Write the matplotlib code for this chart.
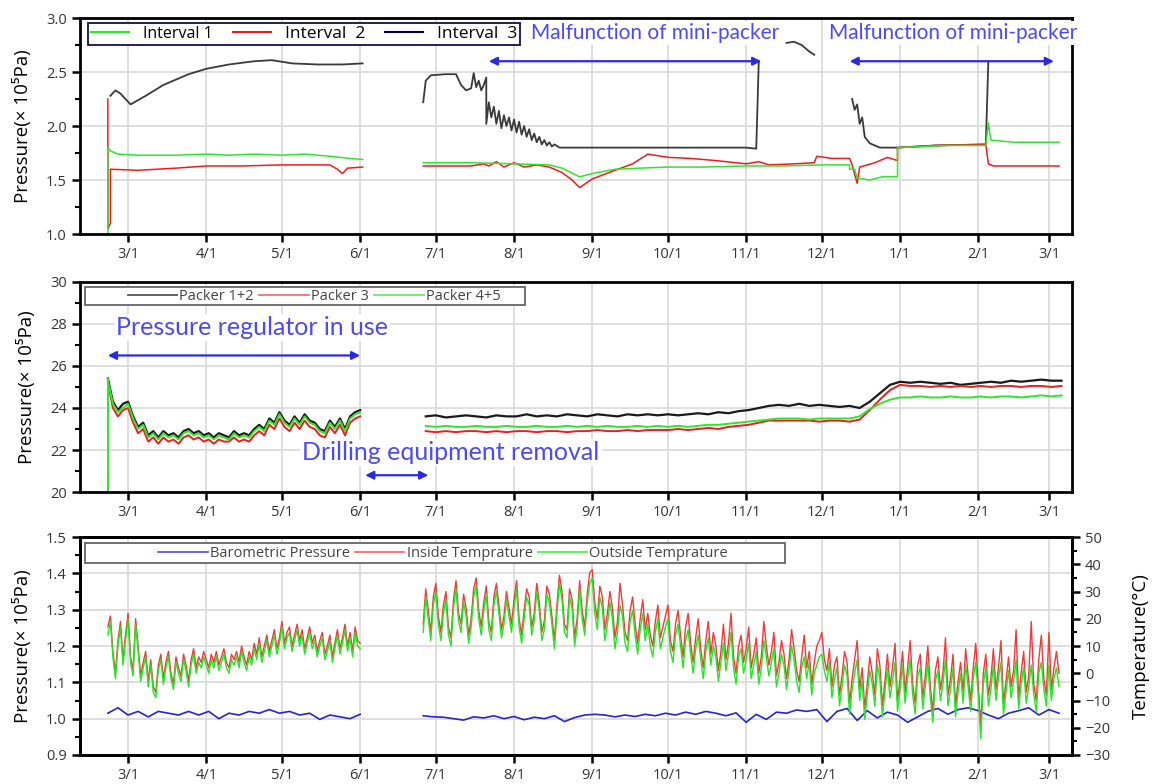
import numpy as np
import pandas as pd
import matplotlib
matplotlib.use("Agg")
import matplotlib.pyplot as plt
import matplotlib.dates as mdates
from matplotlib.lines import Line2D
from matplotlib.patches import Rectangle
from matplotlib.ticker import MultipleLocator, FormatStrFormatter, FuncFormatter

# ---------------- panel 1: interval pressures (x10^5 Pa), None = data gap ----------------
i1_dates = ["13-02-21", "13-02-21", "13-02-22", "13-02-25", "13-03-05", "13-03-20", "13-04-01",
            "13-04-10", "13-04-20", "13-05-01", "13-05-10", "13-05-20", "13-05-28", "13-06-02",
            "13-06-10",
            "13-06-26", "13-07-15", "13-08-01", "13-08-15", "13-08-20", "13-08-27", "13-09-01",
            "13-09-10", "13-09-20", "13-10-01", "13-10-15", "13-11-01", "13-11-15", "13-12-01",
            "13-12-12", "13-12-12", "13-12-14", "13-12-15", "13-12-20", "13-12-25", "13-12-31",
            "13-12-31", "14-01-10", "14-01-20", "14-02-04", "14-02-05", "14-02-06", "14-02-15",
            "14-03-05"]
i1_vals = [1.0, 1.80, 1.77, 1.74, 1.73, 1.73, 1.74, 1.73, 1.74, 1.73, 1.74, 1.72, 1.70, 1.69,
           None,
           1.66, 1.66, 1.65, 1.64, 1.61, 1.53, 1.56, 1.60, 1.61, 1.62, 1.62, 1.63, 1.63, 1.64,
           1.64, 1.60, 1.60, 1.52, 1.50, 1.53, 1.53, 1.80, 1.81, 1.82, 1.82, 2.03, 1.87, 1.85,
           1.85]

i2_dates = ["13-02-21", "13-02-21", "13-02-22", "13-02-22", "13-03-05", "13-03-20", "13-04-01",
            "13-04-15", "13-05-01", "13-05-20", "13-05-23", "13-05-25", "13-05-27", "13-06-02",
            "13-06-10",
            "13-06-26", "13-07-15", "13-07-20", "13-07-22", "13-07-25", "13-07-28", "13-08-01",
            "13-08-05", "13-08-10", "13-08-15", "13-08-20", "13-08-24", "13-08-27", "13-09-01",
            "13-09-10", "13-09-17", "13-09-23", "13-10-01", "13-10-10", "13-10-20", "13-11-01",
            "13-11-06", "13-11-10", "13-11-20", "13-11-28", "13-11-29", "13-12-05", "13-12-12",
            "13-12-13", "13-12-15", "13-12-16", "13-12-22", "13-12-27", "13-12-31", "13-12-31",
            "14-01-15", "14-02-04", "14-02-05", "14-02-07", "14-03-05"]
i2_vals = [2.25, 1.05, 1.10, 1.60, 1.59, 1.61, 1.63, 1.63, 1.64, 1.64, 1.60, 1.56, 1.61, 1.62,
           None,
           1.63, 1.63, 1.65, 1.63, 1.67, 1.62, 1.66, 1.62, 1.64, 1.62, 1.57, 1.50, 1.43, 1.51,
           1.59, 1.65, 1.74, 1.71, 1.70, 1.68, 1.65, 1.67, 1.64, 1.65, 1.66, 1.72, 1.70, 1.70,
           1.64, 1.47, 1.62, 1.66, 1.71, 1.68, 1.80, 1.82, 1.83, 1.65, 1.63, 1.63]

i3_dates = ["13-02-22", "13-02-24", "13-02-26", "13-02-28", "13-03-02", "13-03-08", "13-03-15",
            "13-03-25", "13-04-01", "13-04-10", "13-04-20", "13-04-27", "13-05-05", "13-05-15",
            "13-05-25", "13-06-02",
            "13-06-10",
            "13-06-26", "13-06-27", "13-06-29", "13-07-05", "13-07-09", "13-07-11", "13-07-13",
            "13-07-15", "13-07-16", "13-07-17", "13-07-18", "13-07-19", "13-07-20", "13-07-21",
            "13-07-21", "13-07-22", "13-07-23", "13-07-24", "13-07-25", "13-07-26", "13-07-27",
            "13-07-28", "13-07-29", "13-07-30", "13-07-31", "13-08-01", "13-08-02", "13-08-03",
            "13-08-04", "13-08-05", "13-08-06", "13-08-07", "13-08-08", "13-08-09", "13-08-10",
            "13-08-11", "13-08-12", "13-08-13", "13-08-14", "13-08-15", "13-08-16", "13-08-17",
            "13-08-19", "13-09-01", "13-10-01", "13-11-01", "13-11-05", "13-11-06",
            "13-11-10",
            "13-11-17", "13-11-20", "13-11-23", "13-11-26", "13-11-28",
            "13-12-05",
            "13-12-13", "13-12-14", "13-12-15", "13-12-16", "13-12-17", "13-12-18", "13-12-20",
            "13-12-24", "13-12-31", "14-01-15", "14-02-04", "14-02-05"]
i3_vals = [2.28, 2.33, 2.30, 2.25, 2.20, 2.28, 2.38, 2.48, 2.53, 2.57, 2.60, 2.61, 2.58, 2.57,
           2.57, 2.58,
           None,
           2.22, 2.42, 2.47, 2.48, 2.48, 2.38, 2.33, 2.35, 2.49, 2.36, 2.42, 2.33, 2.38, 2.45,
           2.02, 2.22, 2.08, 2.18, 2.02, 2.14, 1.98, 2.10, 2.00, 2.08, 1.96, 2.06, 1.94, 2.04,
           1.92, 2.00, 1.90, 1.97, 1.87, 1.93, 1.85, 1.90, 1.83, 1.87, 1.82, 1.85, 1.81, 1.83,
           1.80, 1.80, 1.80, 1.80, 1.79, 2.60,
           None,
           2.77, 2.78, 2.75, 2.69, 2.66,
           None,
           2.25, 2.15, 2.20, 2.02, 2.08, 1.90, 1.84, 1.80, 1.80, 1.82, 1.83, 2.60]

# ---------------- panel 2: packer pressures (x10^5 Pa) ----------------
pk_start1 = "13-02-21"  # 2-day readings
pk12_seg1 = [25.4, 24.3, 23.9, 24.2, 24.3, 23.6, 23.1, 23.3, 22.7, 22.9, 22.6, 22.9, 22.7, 22.8,
             22.6, 22.9, 23.0, 22.8, 22.9, 22.7, 22.8, 22.6, 22.8, 22.7, 22.6, 22.9, 22.7, 22.8,
             22.7, 23.0, 23.2, 23.0, 23.5, 23.3, 23.8, 23.4, 23.2, 23.6, 23.3, 23.7, 23.4, 23.3,
             23.0, 22.9, 23.4, 23.1, 23.5, 23.0, 23.6, 23.8, 23.9]
pk3_seg1 = [25.2, 24.0, 23.6, 23.9, 24.0, 23.3, 22.8, 23.0, 22.4, 22.6, 22.3, 22.6, 22.4, 22.5,
            22.3, 22.6, 22.7, 22.5, 22.6, 22.4, 22.5, 22.3, 22.5, 22.4, 22.4, 22.6, 22.4, 22.5,
            22.4, 22.7, 22.9, 22.7, 23.2, 23.0, 23.5, 23.1, 22.9, 23.3, 23.0, 23.4, 23.1, 23.0,
            22.7, 22.6, 23.1, 22.8, 23.2, 22.7, 23.3, 23.5, 23.6]
pk45_seg1 = [25.3, 24.2, 23.8, 24.0, 24.2, 23.5, 23.0, 23.2, 22.6, 22.8, 22.5, 22.8, 22.6, 22.7,
             22.5, 22.8, 22.9, 22.7, 22.8, 22.6, 22.7, 22.5, 22.7, 22.6, 22.5, 22.8, 22.6, 22.7,
             22.6, 22.9, 23.1, 22.9, 23.4, 23.2, 23.7, 23.3, 23.1, 23.5, 23.2, 23.6, 23.3, 23.2,
             22.9, 22.8, 23.3, 23.0, 23.4, 22.9, 23.5, 23.7, 23.8]
pk45_spike_dates = ["13-02-21", "13-02-21"]
pk45_spike_vals = [20.0, 25.4]

pk_start2 = "13-06-27"  # 4-day readings
pk12_seg2 = [23.6, 23.65, 23.55, 23.6, 23.65, 23.6, 23.55, 23.65, 23.6, 23.6, 23.7, 23.6, 23.65,
             23.6, 23.7, 23.65, 23.6, 23.7, 23.65, 23.6, 23.7, 23.65, 23.7, 23.65,
             23.7, 23.65, 23.7, 23.75, 23.7, 23.8, 23.75, 23.85,
             23.9, 24.0, 24.1, 24.15, 24.1, 24.2, 24.1, 24.15, 24.1, 24.05, 24.1,
             24.0, 24.3, 24.7, 25.1, 25.25,
             25.2, 25.25, 25.2, 25.15, 25.2, 25.1, 25.15, 25.2, 25.25, 25.2, 25.3, 25.25, 25.3,
             25.35, 25.3, 25.3]
pk3_seg2 = [22.9, 22.85, 22.9, 22.85, 22.9, 22.9, 22.85, 22.9, 22.85, 22.9, 22.9, 22.85, 22.9,
            22.9, 22.85, 22.9, 22.9, 22.95, 22.9, 22.9, 22.95, 22.9, 22.95, 22.95,
            22.95, 23.0, 22.95, 23.0, 23.05, 23.0, 23.1, 23.15,
            23.2, 23.3, 23.4, 23.4, 23.4, 23.4, 23.4, 23.35, 23.4, 23.4, 23.35,
            23.45, 23.9, 24.4, 24.85, 25.1,
            25.05, 25.05, 25.0, 25.05, 25.0, 25.05, 25.0, 25.05, 25.0, 25.05, 25.05, 25.0, 25.05,
            25.05, 25.0, 25.05]
pk45_seg2 = [23.15, 23.1, 23.15, 23.1, 23.1, 23.15, 23.1, 23.1, 23.15, 23.1, 23.1, 23.15, 23.1,
             23.1, 23.15, 23.1, 23.15, 23.1, 23.15, 23.1, 23.1, 23.15, 23.1, 23.15,
             23.1, 23.15, 23.1, 23.15, 23.2, 23.2, 23.25, 23.3,
             23.35, 23.4, 23.45, 23.5, 23.5, 23.5, 23.45, 23.5, 23.5, 23.5, 23.5,
             23.6, 23.95, 24.2, 24.4, 24.5,
             24.5, 24.55, 24.5, 24.5, 24.55, 24.5, 24.5, 24.55, 24.5, 24.55, 24.55, 24.5, 24.55,
             24.6, 24.55, 24.6]

# ---------------- panel 3: barometric pressure (x10^5 Pa) ----------------
baro_start1 = "13-02-21"  # 4-day readings
baro_seg1 = [1.015, 1.03, 1.01, 1.02, 1.005, 1.02, 1.015, 1.01, 1.02, 1.01, 1.02, 1.0, 1.015,
             1.01, 1.02, 1.015, 1.025, 1.015, 1.02, 1.01, 1.015, 0.998, 1.01, 1.005, 1.0, 1.012]
baro_start2 = "13-06-26"
baro_seg2 = [1.008, 1.005,
             1.004, 1.0, 0.996, 1.005, 1.002, 1.008, 1.0,
             1.006, 0.997, 1.004, 1.0, 1.008, 0.992, 1.003, 1.01,
             1.012, 1.01, 1.005, 1.01, 1.006, 1.012, 1.008, 1.015,
             1.01, 1.018, 1.012, 1.02, 1.015, 1.008, 1.016,
             0.99, 1.012, 0.998, 1.018, 1.015, 1.024, 1.02, 1.025,
             0.992, 1.02, 1.028, 0.995, 1.022, 1.002, 1.018, 1.01,
             0.99, 1.005, 1.02, 1.028, 1.012, 1.025, 1.03,
             1.022, 1.01, 1.0, 1.015, 1.022, 1.03, 1.01,
             1.025, 1.015]

# ---------------- panel 3: daily temperatures (deg C) ----------------
temp_start1 = "13-02-21"
inside_seg1 = [17, 21, 8, 0, 12, 19, 5, 14,
               22, 6, 1, 20, 10, -1, 4, 8, -3, 5, -5, -7, 3, 7, -2, 4, 8, 0, -4, 6, 2, -1, 7, 3,
               -3, 5, 9, 2, 6, 4, 8,
               5, 2, 7, 4, 8, 3, 6, 9, 4, 2, 7, 5, 8, 4, 10, 6, 3, 8, 5, 11, 7, 13, 6, 10, 14, 8,
               12, 16, 9, 13,
               19, 11, 15, 17, 10, 14, 18, 12, 16, 9, 13, 17, 11, 14, 8, 12, 15, 7, 10, 14, 6, 11,
               16, 9, 13, 18, 10, 15, 8, 17, 12,
               11]
outside_seg1 = [14, 19, 6, -2, 10, 17, 3, 12,
                20, 4, -1, 18, 8, -3, 2, 6, -5, 3, -7, -9, 1, 5, -4, 2, 6, -2, -6, 4, 0, -3, 5, 1,
                -5, 3, 7, 0, 4, 2, 6,
                3, 0, 5, 2, 6, 1, 4, 7, 2, 0, 5, 3, 6, 2, 8, 4, 1, 6, 3, 9, 5, 11, 4, 8, 12, 6,
                10, 14, 7, 11,
                17, 9, 13, 15, 8, 12, 16, 10, 14, 7, 11, 15, 9, 12, 6, 10, 13, 5, 8, 12, 4, 9,
                14, 7, 11, 16, 8, 13, 6, 15, 10,
                9]
temp_start2 = "13-06-26"
inside_seg2 = [18, 31, 23, 15, 28,
               33, 21, 15, 25, 30, 17, 13, 27, 34, 22, 18, 29, 24, 14, 20, 31, 35, 23, 17, 26,
               32, 19, 15, 28, 33, 25, 16, 21, 30, 24, 18,
               27, 34, 20, 14, 23, 31, 28, 17, 22, 33, 26, 15, 19, 32, 29, 21, 12, 25, 36, 30,
               18, 16, 31, 27, 13, 20, 34, 23, 17, 29, 37,
               38, 26, 20, 32, 28, 16, 22, 30, 24, 13, 19, 33, 25, 15, 12, 23, 28, 18, 11, 20,
               27, 16, 22, 14, 10, 19, 25, 13, 17, 21,
               25, 12, 8, 18, 23, 14, 6, 17, 22, 11, 4, 13, 20, 9, 2, 12, 19, 7, 15, 10, 1, 8,
               18, 5, 11, 22, 6, 0, 10, 14, 4,
               9, 17, 2, 7, 13, 0, 6, 19, 10, 3, 8, 15, -1, 4, 12, 7, -2, 5, 16, 9, 1, -3, 6, 14,
               2, 8, -4, 4, 10, 12,
               15, 5, 1, 9, -5, 3, 6, -8, -1, 8, 4, -11, -2, 5, 12, -6, 2, -13, -4, 6, 0, -8, 9,
               3, -12, -3, 7, -5, 2, 11, -10,
               -2, 8, -7, 2, 12, -4, -11, 3, 7, -9, -1, 10, -5, -14, 1, 6, -6, 0, 13, -8, -2, 7,
               -12, -3, 4, -7, 9, -1, -10, 2, 11,
               -4, -20, 0, 7, -8, -2, 9, -6, 2, 12, -11, -3, 6, -5, 1, 16, -9, 0, 8, -7, -1, 19,
               -4, -10, 5, 14, -2, -8,
               15, -6, 2, 8, 0]
outside_seg2 = [15, 28, 20, 12, 25,
                30, 18, 12, 22, 27, 14, 10, 24, 31, 19, 15, 26, 21, 11, 17, 28, 32, 20, 14, 23,
                29, 16, 12, 25, 30, 22, 13, 18, 27, 21, 15,
                24, 31, 17, 11, 20, 28, 25, 14, 19, 30, 23, 12, 16, 29, 26, 18, 9, 22, 33, 27,
                15, 13, 28, 24, 10, 17, 31, 20, 14, 26, 33,
                35, 22, 16, 28, 24, 12, 18, 26, 20, 9, 15, 25, 21, 11, 8, 19, 23, 14, 7, 16, 22,
                12, 18, 10, 6, 15, 20, 9, 13, 17,
                20, 8, 4, 14, 18, 10, 2, 12, 16, 7, 0, 9, 14, 5, -2, 8, 13, 3, 10, 6, -3, 4, 11,
                1, 7, 15, 2, -4, 6, 9, 0,
                5, 11, -2, 3, 8, -4, 2, 12, 6, -1, 4, 9, -5, 0, 7, 3, -6, 1, 10, 5, -3, -7, 2, 6,
                -2, 4, -8, 0, 3, 6,
                7, 1, -3, 4, -9, -2, 2, -12, -5, 3, -1, -15, -6, 0, 5, -10, -3, -17, -8, 1, -4,
                -12, 3, -2, -16, -7, 2, -9, -3, 4, -14,
                -6, 3, -11, -2, 5, -8, -15, -1, 2, -13, -5, 4, -9, -18, -3, 1, -10, -4, 5, -12,
                -6, 2, -16, -7, 0, -11, 3, -5, -14, -2, 4,
                -8, -24, -4, 2, -12, -6, 3, -10, -2, 4, -15, -7, 1, -9, -3, 5, -13, -4, 2, -11,
                -5, 3, -8, -14, 0, 4, -6, -12,
                3, -10, -2, 2, -5]

# annotation spans
malf_spans = [("13-07-22", "13-11-07"), ("13-12-12", "14-03-03")]
regulator_span = ("13-02-21", "13-06-01")
removal_span = ("13-06-03", "13-06-28")

GREEN = "#2ee62e"
RED = "#f01c1c"
BLUE_TXT = "#4b4bf5"
BLUE_ARROW = "#2a2ae6"
FONT = ["Open Sans", "DejaVu Sans"]
ANNOT_FONT = ["Lato", "DejaVu Sans"]


def keyed(dates, vals):
    x = pd.to_datetime(dates, format="%y-%m-%d")
    y = np.array([np.nan if v is None else v for v in vals], dtype=float)
    return x, y


def regular(start, step, vals):
    x = pd.date_range(pd.to_datetime(start, format="%y-%m-%d"), periods=len(vals), freq=f"{step}D")
    return x, np.asarray(vals, dtype=float)


def d(s):
    return pd.to_datetime(s, format="%y-%m-%d")


def style(ax, ylo, yhi, major, minor, fmt):
    ax.set_xlim(d("13-02-10"), d("14-03-10"))
    ax.set_ylim(ylo, yhi)
    ax.xaxis.set_major_locator(mdates.MonthLocator())
    ax.xaxis.set_major_formatter(FuncFormatter(
        lambda v, p: f"{mdates.num2date(v).month}/{mdates.num2date(v).day}"))
    ax.yaxis.set_major_locator(MultipleLocator(major))
    ax.yaxis.set_minor_locator(MultipleLocator(minor))
    ax.yaxis.set_major_formatter(FormatStrFormatter(fmt))
    ax.grid(True, color="#d9d9d9", lw=1.2)
    ax.set_axisbelow(True)
    for s in ax.spines.values():
        s.set_linewidth(2)
    ax.tick_params(which="major", direction="out", length=6, width=1.8, labelsize=10.5,
                   labelcolor="#333333")
    ax.tick_params(which="minor", direction="out", length=3.5, width=1.5)
    ax.set_ylabel("Pressure(× 10⁵Pa)", fontsize=13.5, family=FONT, labelpad=10)
    for lab in ax.get_xticklabels() + ax.get_yticklabels():
        lab.set_family(FONT)


def arrow(ax, span, y):
    ax.annotate("", xy=(d(span[0]), y), xytext=(d(span[1]), y),
                arrowprops=dict(arrowstyle="<|-|>", color=BLUE_ARROW, lw=1.6,
                                mutation_scale=12, shrinkA=0, shrinkB=0))


def boxed_legend(ax, handles, labels, box, center_x):
    x0, y0, w, h = box
    ax.add_patch(Rectangle((x0, y0), w, h, transform=ax.transAxes, facecolor="white",
                           edgecolor="#666666", lw=1.3, zorder=5, clip_on=False))
    leg = ax.legend(handles, labels, ncol=3, loc="center", bbox_to_anchor=(center_x, y0 + h / 2),
                    frameon=False, handlelength=3.4, handletextpad=0.15, columnspacing=0.35,
                    borderpad=0, prop={"family": FONT, "size": 10.5})
    leg.set_zorder(6)
    for t in leg.get_texts():
        t.set_color("#444444")
    return leg


fig = plt.figure(figsize=(11.61, 7.84), dpi=100)
ax1 = fig.add_axes([0.069, 0.7015, 0.854, 0.2755])
ax2 = fig.add_axes([0.069, 0.3724, 0.854, 0.268])
ax3 = fig.add_axes([0.069, 0.037, 0.854, 0.278])

# ---- panel 1 ----
x, y = keyed(i3_dates, i3_vals)
ax1.plot(x, y, color="#3a3a3a", lw=1.3)
x, y = keyed(i2_dates, i2_vals)
ax1.plot(x, y, color=RED, lw=1.1)
x, y = keyed(i1_dates, i1_vals)
ax1.plot(x, y, color=GREEN, lw=1.1)
style(ax1, 1.0, 3.0, 0.5, 0.25, "%.1f")
h1 = [Line2D([], [], color=GREEN, lw=1.5), Line2D([], [], color=RED, lw=1.5),
      Line2D([], [], color="#000040", lw=1.5)]
leg1 = ax1.legend(h1, ["Interval 1", "Interval  2", "Interval  3"], ncol=3, mode="expand",
                  loc="lower left", bbox_to_anchor=(0.008, 0.876, 0.436, 0.11), borderaxespad=0,
                  fancybox=False, edgecolor="#10104a", framealpha=1, handlelength=2.2,
                  borderpad=0.15, prop={"family": FONT, "size": 12.5})
leg1.get_frame().set_linewidth(1.3)
leg1.get_texts()[0].set_fontsize(11.5)
leg1.set_zorder(7)
for span, cx in zip(malf_spans, ["13-09-26", "14-01-22"]):
    arrow(ax1, span, 2.6)
    ax1.text(d(cx), 2.86, "Malfunction of mini-packer", color=BLUE_TXT, fontsize=15,
             family=ANNOT_FONT, ha="center", va="center", clip_on=False, zorder=6,
             bbox=dict(facecolor="white", edgecolor="none", pad=1.5))

# ---- panel 2 ----
for start, step, segs in [(pk_start1, 2, (pk12_seg1, pk3_seg1, pk45_seg1)),
                          (pk_start2, 4, (pk12_seg2, pk3_seg2, pk45_seg2))]:
    x, y = regular(start, step, segs[0])
    ax2.plot(x, y, color="#1a1a1a", lw=1.6)
    x, y = regular(start, step, segs[1])
    ax2.plot(x, y, color=RED, lw=1.4)
    x, y = regular(start, step, segs[2])
    ax2.plot(x, y, color=GREEN, lw=1.4)
x, y = keyed(pk45_spike_dates, pk45_spike_vals)
ax2.plot(x, y, color=GREEN, lw=1.4)
style(ax2, 20, 30, 2, 1, "%d")
h2 = [Line2D([], [], color="#555555", lw=1.3), Line2D([], [], color="#ff6b6b", lw=1.3),
      Line2D([], [], color="#66ee66", lw=1.3)]
boxed_legend(ax2, h2, ["Packer 1+2", "Packer 3", "Packer 4+5"],
             (0.005, 0.888, 0.444, 0.088), 0.236)
arrow(ax2, regulator_span, 26.5)
ax2.text(d("13-04-19"), 27.85, "Pressure regulator in use", color=BLUE_TXT, fontsize=18,
         family=ANNOT_FONT, ha="center", va="center",
         bbox=dict(facecolor="white", edgecolor="none", pad=1.5))
arrow(ax2, removal_span, 20.8)
ax2.text(d("13-07-07"), 21.9, "Drilling equipment removal", color=BLUE_TXT, fontsize=18,
         family=ANNOT_FONT, ha="center", va="center",
         bbox=dict(facecolor="white", edgecolor="none", pad=1.5))

# ---- panel 3 ----
ax3r = ax3.twinx()
x, y = regular(baro_start1, 4, baro_seg1)
ax3.plot(x, y, color="#2424d8", lw=1.2)
x, y = regular(baro_start2, 4, baro_seg2)
ax3.plot(x, y, color="#2424d8", lw=1.2)
for start, ins, outs in [(temp_start1, inside_seg1, outside_seg1),
                         (temp_start2, inside_seg2, outside_seg2)]:
    x, y = regular(start, 1, ins)
    ax3r.plot(x, y, color="#f23a3a", lw=1.0)
    x, y = regular(start, 1, outs)
    ax3r.plot(x, y, color="#22e622", lw=1.0)
style(ax3, 0.9, 1.5, 0.1, 0.05, "%.1f")
ax3r.set_ylim(-30, 50)
ax3r.yaxis.set_major_locator(MultipleLocator(10))
ax3r.yaxis.set_minor_locator(MultipleLocator(5))
ax3r.tick_params(which="major", direction="out", length=6, width=1.8, labelsize=10.5,
                 labelcolor="#333333")
ax3r.tick_params(which="minor", direction="out", length=3.5, width=1.5)
for lab in ax3r.get_yticklabels():
    lab.set_family(FONT)
for s in ax3r.spines.values():
    s.set_linewidth(2)
ax3r.set_ylabel("Temperature(°C)", fontsize=13.5, family=FONT, labelpad=16)
h3 = [Line2D([], [], color="#5a5ae0", lw=1.3), Line2D([], [], color="#ff6b6b", lw=1.3),
      Line2D([], [], color="#55ee55", lw=1.3)]
boxed_legend(ax3r, h3, ["Barometric Pressure", "Inside Temprature", "Outside Temprature"],
             (0.005, 0.88, 0.706, 0.092), 0.366)

fig.savefig("out.png", dpi=100)
